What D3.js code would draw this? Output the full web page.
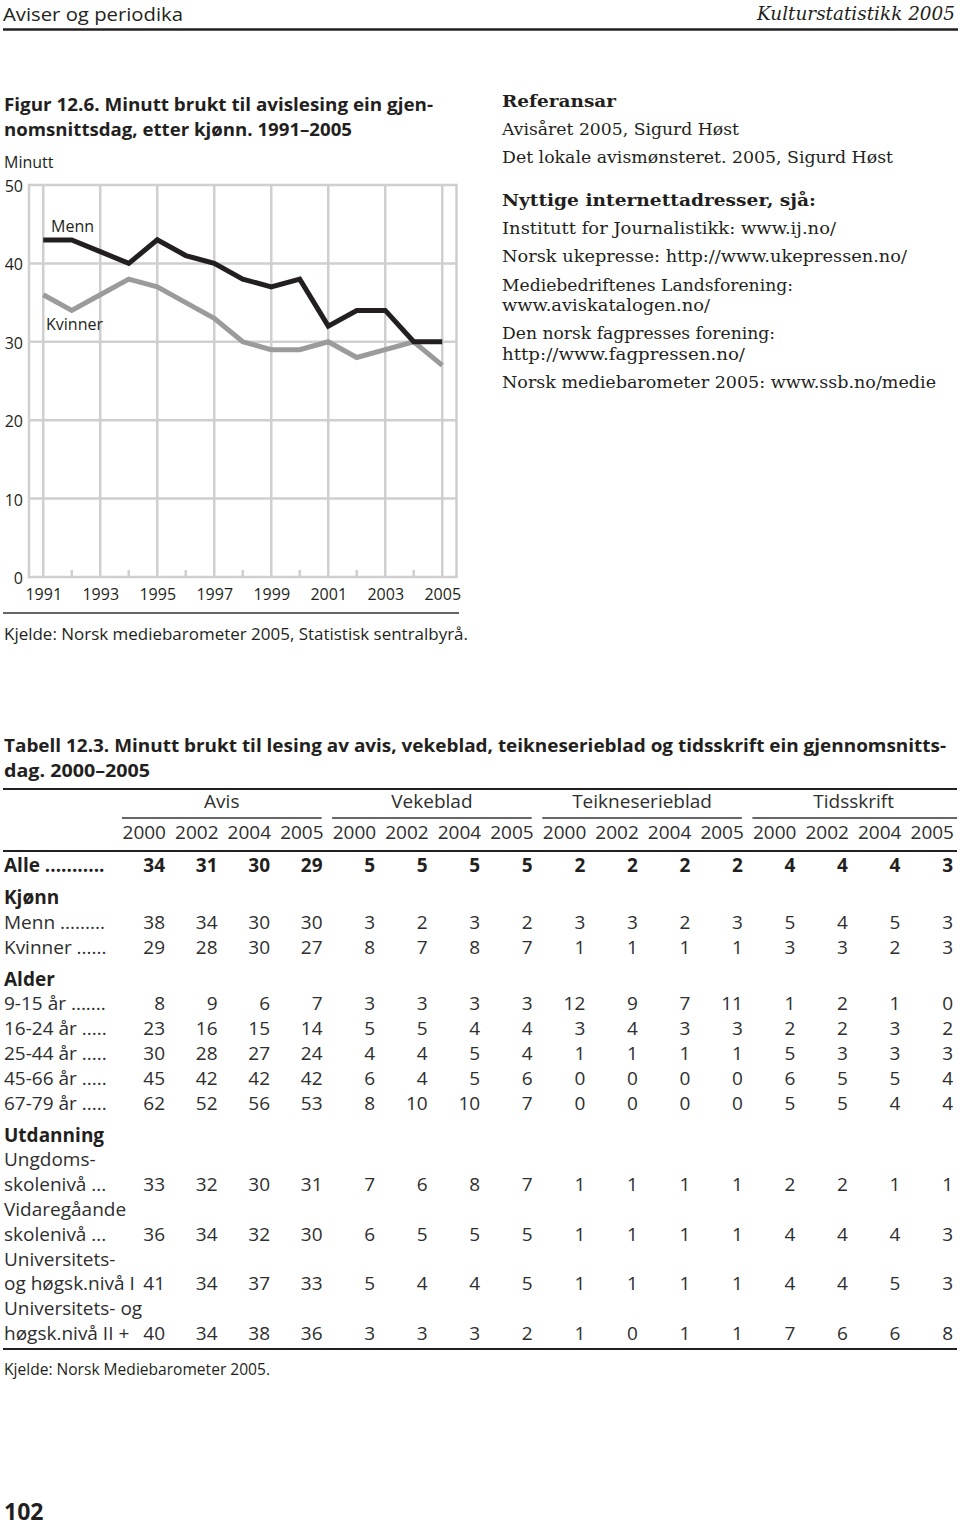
<!DOCTYPE html>
<html>
<head>
<meta charset="utf-8">
<script src="https://cdn.jsdelivr.net/npm/d3@7"></script>
<style>
  html, body { margin: 0; padding: 0; background: #fff; }
  svg { display: block; }
  text { fill: #231f20; }
</style>
</head>
<body>
<svg id="page" width="960" height="1526"></svg>
<script>
// ---------------- DATA ----------------
const years = [1991,1992,1993,1994,1995,1996,1997,1998,1999,2000,2001,2002,2003,2004,2005];
const menn =    [43,43,41.5,40,43,41,40,38,37,38,32,34,34,30,30];
const kvinner = [36,34,36,38,37,35,33,30,29,29,30,28,29,30,27];
const yTicks = [0,10,20,30,40,50];
const xTicks = [1991,1993,1995,1997,1999,2001,2003,2005];
const minorTicks = [1992,1994,1996,1998,2000,2002,2004];

const refLines = [
  "Avisåret 2005, Sigurd Høst",
  "Det lokale avismønsteret. 2005, Sigurd Høst"
];
const urlLines = [
  "Institutt for Journalistikk: www.ij.no/",
  "Norsk ukepresse: http://www.ukepressen.no/",
  "Mediebedriftenes Landsforening:",
  "www.aviskatalogen.no/",
  "Den norsk fagpresses forening:",
  "http://www.fagpressen.no/",
  "Norsk mediebarometer 2005: www.ssb.no/medie"
];

const groups = ["Avis","Vekeblad","Teikneserieblad","Tidsskrift"];
const tableYears = ["2000","2002","2004","2005"];

const alle        = [34,31,30,29, 5,5,5,5, 2,2,2,2, 4,4,4,3];
const tMenn       = [38,34,30,30, 3,2,3,2, 3,3,2,3, 5,4,5,3];
const tKvinner    = [29,28,30,27, 8,7,8,7, 1,1,1,1, 3,3,2,3];
const age9_15     = [8,9,6,7, 3,3,3,3, 12,9,7,11, 1,2,1,0];
const age16_24    = [23,16,15,14, 5,5,4,4, 3,4,3,3, 2,2,3,2];
const age25_44    = [30,28,27,24, 4,4,5,4, 1,1,1,1, 5,3,3,3];
const age45_66    = [45,42,42,42, 6,4,5,6, 0,0,0,0, 6,5,5,4];
const age67_79    = [62,52,56,53, 8,10,10,7, 0,0,0,0, 5,5,4,4];
const eduUngdom   = [33,32,30,31, 7,6,8,7, 1,1,1,1, 2,2,1,1];
const eduVidare   = [36,34,32,30, 6,5,5,5, 1,1,1,1, 4,4,4,3];
const eduUniv1    = [41,34,37,33, 5,4,4,5, 1,1,1,1, 4,4,5,3];
const eduUniv2    = [40,34,38,36, 3,3,3,2, 1,0,1,1, 7,6,6,8];

// row kinds: "total" (bold with values), "head" (bold section), "row" (values), "line" (label only)
const tableRows = [
  {kind:"total", label:"Alle", vals:alle, dots:true},
  {kind:"head",  label:"Kjønn"},
  {kind:"row",   label:"Menn", vals:tMenn, dots:true},
  {kind:"row",   label:"Kvinner", vals:tKvinner, dots:true},
  {kind:"head",  label:"Alder"},
  {kind:"row",   label:"9-15 år", vals:age9_15, dots:true},
  {kind:"row",   label:"16-24 år", vals:age16_24, dots:true},
  {kind:"row",   label:"25-44 år", vals:age25_44, dots:true},
  {kind:"row",   label:"45-66 år", vals:age45_66, dots:true},
  {kind:"row",   label:"67-79 år", vals:age67_79, dots:true},
  {kind:"head",  label:"Utdanning"},
  {kind:"line",  label:"Ungdoms-"},
  {kind:"row",   label:"skolenivå", vals:eduUngdom, dots:true},
  {kind:"line",  label:"Vidaregåande"},
  {kind:"row",   label:"skolenivå", vals:eduVidare, dots:true},
  {kind:"line",  label:"Universitets-"},
  {kind:"row",   label:"og høgsk.nivå I", vals:eduUniv1, dots:false},
  {kind:"line",  label:"Universitets- og"},
  {kind:"row",   label:"høgsk.nivå II +", vals:eduUniv2, dots:false}
];

// ---------------- HELPERS ----------------
const SANS = "'Open Sans', 'Noto Sans', sans-serif";
const SERIF = "'DejaVu Serif', 'Liberation Serif', serif";
const svg = d3.select("#page");

function fit(sel, w) {
  const L = sel.node().getComputedTextLength();
  if (Math.abs(L - w) / w > 0.01) {
    sel.attr("textLength", w).attr("lengthAdjust", "spacingAndGlyphs");
  }
  return sel;
}
function txt(x, y, s, opts = {}) {
  const t = svg.append("text")
    .attr("x", x).attr("y", y)
    .attr("font-family", opts.family || SANS)
    .attr("font-size", opts.size || 16)
    .attr("font-weight", opts.weight || "normal")
    .attr("font-style", opts.style || "normal")
    .attr("text-anchor", opts.anchor || "start")
    .text(s);
  if (opts.fill) t.style("fill", opts.fill);
  if (opts.width) fit(t, opts.width);
  return t;
}
function rule(x1, x2, y, w, c) {
  svg.append("line").attr("x1", x1).attr("x2", x2).attr("y1", y).attr("y2", y)
    .attr("stroke", c || "#231f20").attr("stroke-width", w);
}

// ---------------- PAGE HEADER ----------------
txt(3, 21, "Aviser og periodika", {size: 19, width: 180});
txt(955, 20, "Kulturstatistikk 2005", {size: 18, family: SERIF, style: "italic", anchor: "end", width: 198});
rule(3, 958, 29.5, 2.5);

// ---------------- FIGURE ----------------
txt(4, 111, "Figur 12.6. Minutt brukt til avislesing ein gjen-", {size: 18, weight: "bold", width: 429});
txt(4, 136, "nomsnittsdag, etter kjønn. 1991–2005", {size: 18, weight: "bold", width: 348});
txt(4, 168, "Minutt", {size: 16});

const x = d3.scaleLinear().domain([1990.5, 2005.5]).range([29, 456.5]);
const y = d3.scaleLinear().domain([0, 50]).range([577, 185]);
const GRID = "#cfcfcf";
const chart = svg.append("g");

// horizontal grid
chart.selectAll(".hg").data(yTicks).join("line")
  .attr("x1", x.range()[0]).attr("x2", x.range()[1])
  .attr("y1", d => y(d)).attr("y2", d => y(d))
  .attr("stroke", GRID).attr("stroke-width", 2.5);
// vertical grid at odd years
chart.selectAll(".vg").data(xTicks).join("line")
  .attr("x1", d => x(d)).attr("x2", d => x(d))
  .attr("y1", y(50)).attr("y2", y(0))
  .attr("stroke", GRID).attr("stroke-width", 2.5);
// frame sides
chart.selectAll(".fr").data(x.range()).join("line")
  .attr("x1", d => d).attr("x2", d => d)
  .attr("y1", y(50) - 1.25).attr("y2", y(0) + 1.25)
  .attr("stroke", GRID).attr("stroke-width", 2.5);
// minor ticks
chart.selectAll(".mt").data(minorTicks).join("line")
  .attr("x1", d => x(d)).attr("x2", d => x(d))
  .attr("y1", y(0) - 7).attr("y2", y(0))
  .attr("stroke", GRID).attr("stroke-width", 2.5);

// axes (labels only)
const yAxis = chart.append("g").attr("transform", `translate(${x.range()[0]},0)`)
  .call(d3.axisLeft(y).tickValues(yTicks).tickSize(0).tickPadding(6).tickFormat(d3.format("d")));
yAxis.select(".domain").remove();
yAxis.selectAll("text").attr("font-family", SANS).attr("font-size", 16).attr("fill", "#231f20").attr("dy", "0.4em");

const xAxis = chart.append("g").attr("transform", `translate(0,${y(0)})`)
  .call(d3.axisBottom(x).tickValues(xTicks).tickSize(0).tickPadding(12).tickFormat(d3.format("d")));
xAxis.select(".domain").remove();
xAxis.selectAll("text").attr("font-family", SANS).attr("font-size", 16).attr("fill", "#231f20");

const line = d3.line().x((d, i) => x(years[i])).y(d => y(d));
chart.append("path").datum(kvinner).attr("d", line)
  .attr("fill", "none").attr("stroke", "#9b9b9b").attr("stroke-width", 5);
chart.append("path").datum(menn).attr("d", line)
  .attr("fill", "none").attr("stroke", "#231f20").attr("stroke-width", 5);

txt(51, 232, "Menn", {size: 16});
txt(46, 330, "Kvinner", {size: 16});

rule(3, 459, 613, 1.5, "#333");
txt(4, 640, "Kjelde: Norsk mediebarometer 2005, Statistisk sentralbyrå.", {size: 16, width: 464});

// ---------------- RIGHT COLUMN ----------------
txt(502, 107, "Referansar", {family: SERIF, size: 17, weight: "bold", width: 114});
txt(502, 135, refLines[0], {family: SERIF, size: 16, width: 237});
txt(502, 163, refLines[1], {family: SERIF, size: 16, width: 391});
txt(502, 206, "Nyttige internettadresser, sjå:", {family: SERIF, size: 17, weight: "bold", width: 314});
const urlY = [234, 262, 290.5, 311, 339, 360, 388];
const urlW = [334, 405, 291, 208, 273, 243, 434];
urlLines.forEach((s, i) => txt(502, urlY[i], s, {family: SERIF, size: 16, width: urlW[i]}));

// ---------------- TABLE ----------------
txt(4, 752, "Tabell 12.3. Minutt brukt til lesing av avis, vekeblad, teikneserieblad og tidsskrift ein gjennomsnitts-", {size: 18, weight: "bold", width: 942});
txt(4, 777, "dag. 2000–2005", {size: 18, weight: "bold", width: 146});
rule(3, 957, 789, 2);

const col = d3.scalePoint().domain(d3.range(16)).range([166, 954]);
const TS = 19;
const LIGHT = "#2e2e2e";

groups.forEach((g, gi) => {
  const left = col(gi * 4) - 44, right = gi === 3 ? 957 : col(gi * 4 + 3) - 2;
  txt((left + right) / 2 + (gi === 3 ? -1 : 0), 808, g, {size: TS, anchor: "middle", fill: LIGHT});
  rule(left, right, 818, 1.5, "#333");
  tableYears.forEach((yr, yi) => txt(col(gi * 4 + yi), 839, yr, {size: TS, anchor: "end", fill: LIGHT}));
});
rule(3, 957, 851, 2);

let ty = 872;
tableRows.forEach((r, i) => {
  if (i > 0) ty += (r.kind === "head") ? 32 : 24.8;
  const bold = r.kind === "total" || r.kind === "head";
  const t = txt(4, ty, r.label + (r.dots ? " ..............." : ""), {size: TS, weight: bold ? "bold" : "normal", fill: bold ? null : LIGHT});
  if (r.dots) {
    let s = t.text();
    while (t.node().getComputedTextLength() > 105 && s.endsWith(".")) {
      s = s.slice(0, -1);
      t.text(s);
    }
  }
  if (r.vals) {
    r.vals.forEach((v, j) => txt(col(j) - 1, ty, String(v), {size: TS, anchor: "end", weight: bold ? "bold" : "normal", fill: bold ? null : LIGHT}));
  }
});
rule(3, 957, 1349, 2);
txt(4, 1375, "Kjelde: Norsk Mediebarometer 2005.", {size: 16, width: 266});

// ---------------- PAGE NUMBER ----------------
txt(4, 1520, "102", {size: 23, weight: "bold"});
</script>
</body>
</html>
